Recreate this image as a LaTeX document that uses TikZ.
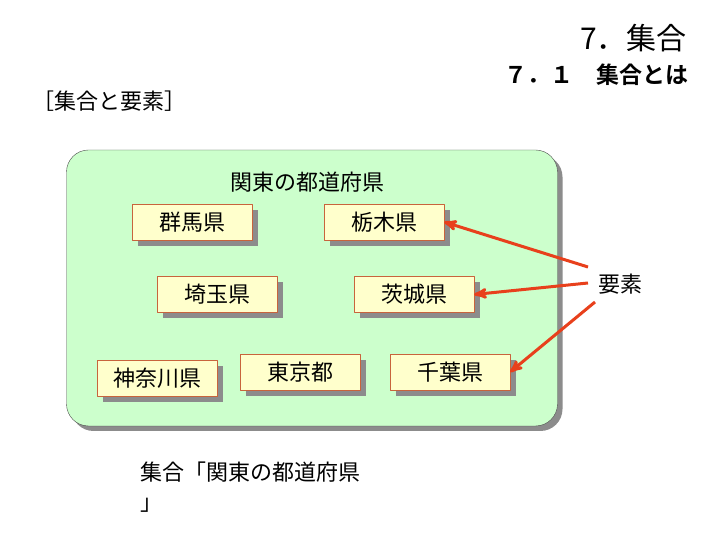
\documentclass[tikz,border=0pt]{standalone}
\usepackage{fontspec}
\setmainfont{Noto Sans CJK JP}[BoldFont={Noto Sans CJK JP Bold}]
\usepackage{tikz}
\usetikzlibrary{arrows,shapes,shadows}
\definecolor{areagreen}{HTML}{CCFFCC}
\definecolor{boxcream}{HTML}{FFFFCC}
\definecolor{boxedge}{HTML}{C8643C}
\definecolor{arrowred}{HTML}{E8401C}

\begin{document}
\begin{tikzpicture}[>=latex,line join=bevel,
  pref/.style={draw=boxedge,fill=boxcream,minimum width=120bp,minimum height=36bp,
    inner sep=0pt,font=\fontsize{22bp}{24bp}\selectfont,
    drop shadow={shadow xshift=6bp,shadow yshift=-6bp,fill=gray!90,opacity=1}},
  area/.style={draw=black!70,fill=areagreen,rounded corners=22bp,
    drop shadow={shadow xshift=5bp,shadow yshift=-5bp,fill=gray!90,opacity=1}},
  elem/.style={->,arrowred,line width=3bp,>=stealth'},
  label/.style={inner sep=0pt,font=\fontsize{22bp}{26bp}\selectfont}]
  \useasboundingbox (0bp,0bp) rectangle (720bp,540bp);
  \node (kanto) at (312bp,252bp) [area,minimum width=491bp,minimum height=276bp] {};
  \node (kantotitle) at (307bp,358bp) [label] {関東の都道府県};
  \node (gunma) at (192bp,318bp) [pref] {群馬県}; \node
  (tochigi) at (384bp,318bp) [pref] {栃木県}; \node (saitama)
  at (217bp,245.5bp) [pref] {埼玉県}; \node (ibaraki) at
  (414bp,245.5bp) [pref] {茨城県}; \node (kanagawa) at
  (157bp,162bp) [pref] {神奈川県}; \node (tokyo) at
  (300bp,168bp) [pref] {東京都}; \node (chiba) at
  (450bp,168bp) [pref] {千葉県};
  \node (youso) at (620bp,256bp) [label] {要素};
  \coordinate (y1) at (588bp,273bp); \coordinate (y2) at
  (588bp,257bp); \coordinate (y3) at (595bp,238bp);
  \draw [elem] (y1) -- (tochigi.east); \draw [elem] (y2) --
  (ibaraki.east); \draw [elem] (y3) -- (chiba.east);
  \node (chapter) at (687bp,502bp) [anchor=east,inner sep=0pt,
  font=\fontsize{30bp}{34bp}\selectfont] {7．集合};
  \node (section) at (689bp,465bp) [anchor=east,inner sep=0pt,
  font=\fontsize{23bp}{26bp}\selectfont\bfseries] {７．１　集合とは};
  \node (topic) at (32bp,439bp) [anchor=west,label] {［集合と要素］};
  \node (setname) at (140bp,78bp) [anchor=north west,label,
  align=left,text width=240bp,
  font=\fontsize{22bp}{30bp}\selectfont] {集合「関東の都道府県\\」};
  \end{tikzpicture}
\end{document}
